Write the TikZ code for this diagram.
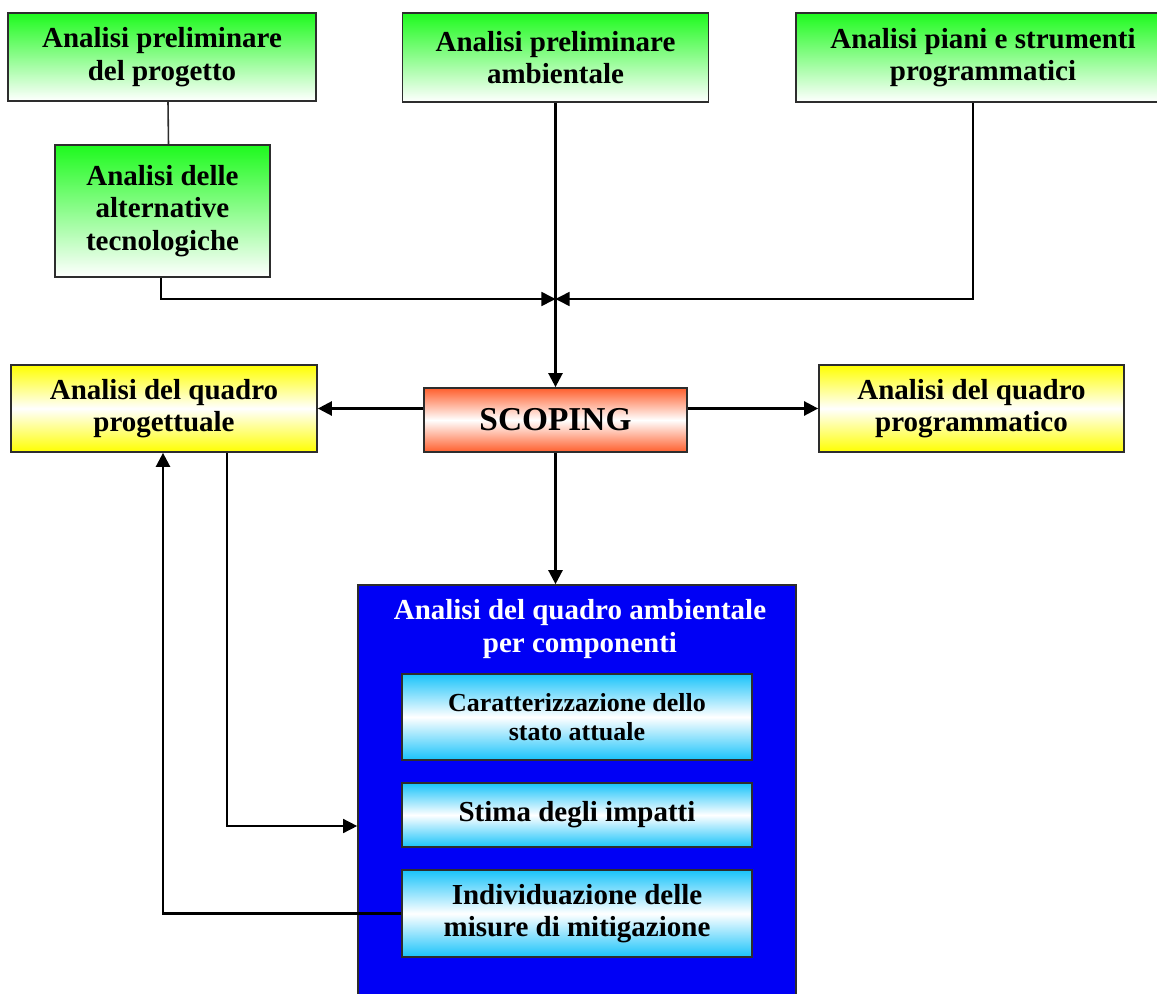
\documentclass[tikz,border=0pt]{standalone}
\usepackage{fontspec}
\setmainfont{Liberation Serif}
\usetikzlibrary{arrows.meta,calc}
\definecolor{gtop}{RGB}{30,250,30}
\definecolor{ytop}{RGB}{255,255,0}
\definecolor{otop}{RGB}{255,95,45}
\definecolor{ctop}{RGB}{25,195,250}
\definecolor{bluebox}{RGB}{0,0,245}
\definecolor{edge}{RGB}{45,45,45}
\tikzset{
  box/.style={draw=edge,line width=1pt,align=center,inner sep=2pt,font=\bfseries\fontsize{16.5}{18.6}\selectfont},
  greenbox/.style={box,top color=gtop,bottom color=white,shading angle=0},
  yellowbox/.style={box,top color=ytop,bottom color=ytop,middle color=white},
  scopebox/.style={box,top color=otop,bottom color=otop,middle color=white,font=\bfseries\fontsize{19}{22}\selectfont},
  cyanbox/.style={box,top color=ctop,bottom color=ctop,middle color=white},
  thickarr/.style={line width=1.4pt,-{Triangle[length=8pt,width=8pt]}},
  thinarr/.style={line width=0.9pt,-{Triangle[length=8pt,width=8pt]}},
}
\begin{document}
\begin{tikzpicture}[x=0.02cm,y=-0.02cm]
\useasboundingbox (0,0) rectangle (1157,994);
% top row
\node[greenbox,minimum width=6.16cm,minimum height=1.76cm] (A1) at (162,57) {Analisi preliminare\\del progetto};
\node[greenbox,minimum width=6.12cm,minimum height=1.78cm] (A2) at (555.5,57.5) {Analisi preliminare\\ambientale};
\node[greenbox,minimum width=7.48cm,minimum height=1.78cm] (A3) at (983,57.5) {Analisi piani e strumenti\\programmatici};
\node[greenbox,minimum width=4.3cm,minimum height=2.64cm] (B) at (162.5,211) {Analisi delle\\alternative\\tecnologiche};
% middle row
\node[scopebox,minimum width=5.26cm,minimum height=1.28cm] (S) at (555.5,420) {SCOPING};
\node[yellowbox,minimum width=6.12cm,minimum height=1.74cm] (Y1) at (164,408.5) {Analisi del quadro\\progettuale};
\node[yellowbox,minimum width=6.1cm,minimum height=1.74cm] (Y2) at (971.5,408.5) {Analisi del quadro\\programmatico};
% blue box
\node[draw=edge,line width=1pt,fill=bluebox,minimum width=8.76cm,minimum height=8.3cm] (Blue) at (577,792.5) {};
\node[align=center,text=white,font=\bfseries\fontsize{16.5}{18.6}\selectfont] (BT) at (580,629) {Analisi del quadro ambientale\\per componenti};
\node[cyanbox,minimum width=7cm,minimum height=1.72cm,font=\bfseries\fontsize{14.8}{16.8}\selectfont] (C1) at (577,717) {Caratterizzazione dello\\stato attuale};
\node[cyanbox,minimum width=7cm,minimum height=1.28cm] (C2) at (577,815) {Stima degli impatti};
\node[cyanbox,minimum width=7cm,minimum height=1.74cm] (C3) at (577,913.5) {Individuazione delle\\misure di mitigazione};
% connectors
\coordinate (J) at (555.5,299);
\draw[line width=0.9pt,draw=edge] ($(A1.south)+(6,0)$) -- ($(B.north)+(6,0)$);
\draw[thinarr] ($(B.south)+(-1.5,0)$) |- (J);
\draw[thinarr] ($(A3.south)+(-10,0)$) |- (J);
\draw[thickarr] (A2.south) -- (S.north);
\draw[thickarr] (S.west |- Y1.east) -- (Y1.east);
\draw[thickarr] (S.east |- Y2.west) -- (Y2.west);
\draw[thickarr] (S.south) -- (S.south |- Blue.north);
\draw[thinarr] ($(Y1.south)+(63,0)$) |- ($(Blue.west |- C2.west)+(0,11)$);
\draw[thickarr] (C3.west) -| ($(Y1.south)+(-1,0)$);
\end{tikzpicture}
\end{document}
